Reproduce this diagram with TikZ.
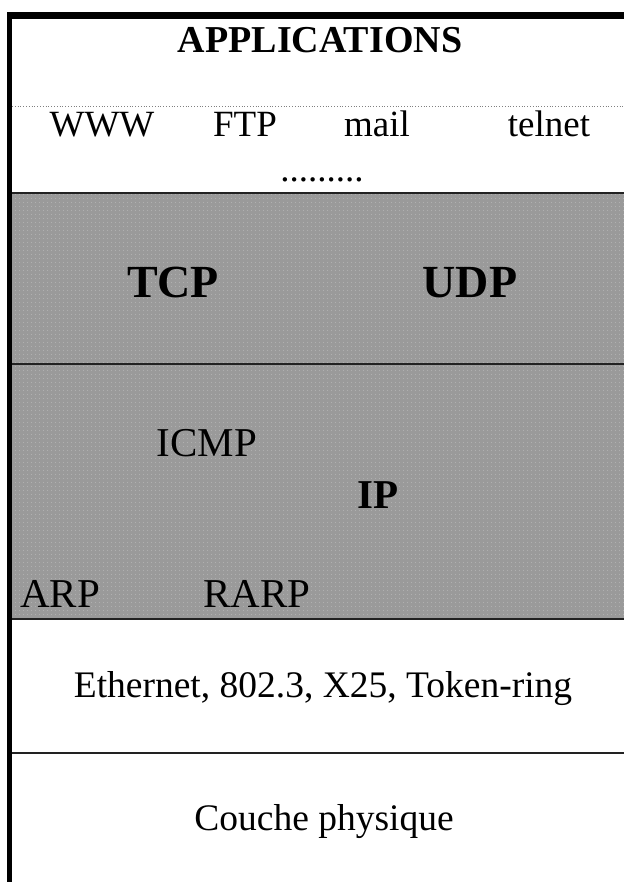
\documentclass[tikz,border=0pt]{standalone}
\usepackage{fontspec}
\setmainfont{Liberation Serif}
\usetikzlibrary{patterns.meta}
\definecolor{layergray}{HTML}{9A9A9A}
\definecolor{dotgray}{HTML}{C2C2C2}
\definecolor{rulegray}{HTML}{222222}
\begin{document}
\begin{tikzpicture}[x=1pt,y=-1pt,
  lbl/.style={anchor=base, inner sep=0pt, font=\fontsize{37}{40}\selectfont},
  biglbl/.style={anchor=base, inner sep=0pt, font=\fontsize{41}{44}\selectfont},
  boldlbl/.style={anchor=base, inner sep=0pt, font=\fontsize{#1}{#1}\selectfont\bfseries},
  layerrule/.style={draw=rulegray, line width=2pt},
]
\useasboundingbox (0,0) rectangle (624,882);
\fill[white] (0,0) rectangle (624,882);

% shaded transport and network layers
\fill[layergray] (12,194) rectangle (624,619);
\fill[pattern={Dots[radius=0.55pt,distance=4pt]}, pattern color=dotgray]
  (12,194) rectangle (624,619);

% layer separators
\draw[gray, dotted, line width=0.8pt] (12,106) -- (624,106);
\draw[layerrule] (12,193.5) -- (624,193.5);
\draw[layerrule] (12,364) -- (624,364);
\draw[layerrule] (12,619) -- (624,619);
\draw[layerrule] (12,753) -- (624,753);

% outer frame (left and top edges)
\fill[black] (7,12) rectangle (12,882);
\fill[black] (7,12) rectangle (624,19);

% application layer
\node[boldlbl=38] (apps) at (320,53) {APPLICATIONS};
\node[lbl] (www) at (102,137) {WWW};
\node[lbl] (ftp) at (245,137) {FTP};
\node[lbl] (mail) at (377,137) {mail};
\node[lbl] (telnet) at (549,137) {telnet};
\node[lbl] (more) at (322,182) {.........};

% transport layer
\node[boldlbl=46] (tcp) at (173,297) {TCP};
\node[boldlbl=46] (udp) at (470,297) {UDP};

% network layer
\node[biglbl] (icmp) at (207,456) {ICMP};
\node[boldlbl=41] (ip) at (378,508) {IP};
\node[biglbl] (arp) at (60,607) {ARP};
\node[biglbl] (rarp) at (257,607) {RARP};

% link and physical layers
\node[lbl, font=\fontsize{37.5}{40}\selectfont] (link) at (323,697) {Ethernet, 802.3, X25, Token-ring};
\node[lbl, font=\fontsize{37.5}{40}\selectfont] (phys) at (324,830) {Couche physique};
\end{tikzpicture}
\end{document}
